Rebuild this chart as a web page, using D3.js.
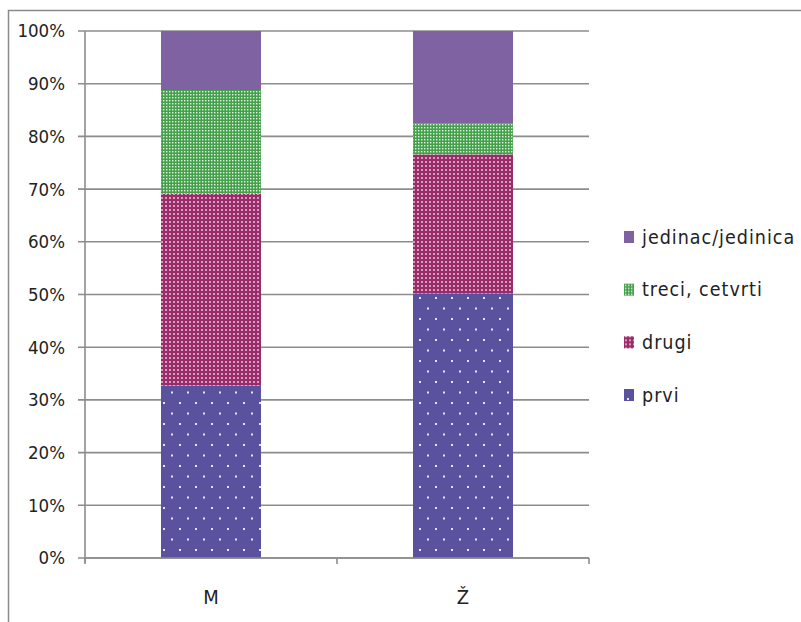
<!DOCTYPE html>
<html><head><meta charset="utf-8">
<script src="https://cdn.jsdelivr.net/npm/d3@7"></script>
<style>
html,body{margin:0;padding:0;background:#fff;}
svg{display:block;}
text{font-family:"DejaVu Sans Condensed","Liberation Sans Narrow","Liberation Sans",Arial,sans-serif;fill:#222;}
</style></head>
<body>
<svg id="chart" width="801" height="622"></svg>
<script>
const categories = ["M", "Ž"];
const seriesNames = ["prvi", "drugi", "treci, cetvrti", "jedinac/jedinica"];
const prvi = [32.7, 50.2];
const drugi = [36.4, 26.4];
const treci = [19.7, 5.8];
const jedinac = [11.2, 17.6];
const yTicks = [0, 10, 20, 30, 40, 50, 60, 70, 80, 90, 100];

const seriesValues = [prvi, drugi, treci, jedinac];
const rows = categories.map((c, i) => {
  const r = {cat: c};
  seriesNames.forEach((s, k) => r[s] = seriesValues[k][i]);
  return r;
});

const svg = d3.select("#chart");
const defs = svg.append("defs");

// Patterns
const p1 = defs.append("pattern").attr("id","pPrvi").attr("patternUnits","userSpaceOnUse")
  .attr("width",16).attr("height",21);
p1.append("rect").attr("width",16).attr("height",21).attr("fill","#5a529f");
p1.append("rect").attr("x",3).attr("y",3).attr("width",2).attr("height",2).attr("fill","#e8e6f4");
p1.append("rect").attr("x",11).attr("y",13.5).attr("width",2).attr("height",2).attr("fill","#e8e6f4");

const p2 = defs.append("pattern").attr("id","pDrugi").attr("patternUnits","userSpaceOnUse")
  .attr("width",4).attr("height",4);
p2.append("rect").attr("width",4).attr("height",4).attr("fill","#9a2c69");
p2.append("rect").attr("x",1.2).attr("y",1.2).attr("width",1.6).attr("height",1.6).attr("fill","#f3dbe8");

const p3 = defs.append("pattern").attr("id","pTreci").attr("patternUnits","userSpaceOnUse")
  .attr("width",3).attr("height",3);
p3.append("rect").attr("width",3).attr("height",3).attr("fill","#45a04c");
p3.append("rect").attr("x",1).attr("y",1).attr("width",1.4).attr("height",1.4).attr("fill","#e6f5e6");

const fills = {"prvi":"url(#pPrvi)","drugi":"url(#pDrugi)","treci, cetvrti":"url(#pTreci)","jedinac/jedinica":"#7f62a2"};

// Border
svg.append("path").attr("d","M8.5,622 V10.5 H801").attr("fill","none").attr("stroke","#8a8a8a").attr("stroke-width",1.5);

const x = d3.scaleBand().domain(categories).range([85, 589]).paddingInner(0).paddingOuter(0);
const y = d3.scaleLinear().domain([0, 100]).range([558, 31]);
const barW = 100;

// Gridlines
svg.append("g").selectAll("line").data(yTicks).join("line")
  .attr("x1",78).attr("x2",589)
  .attr("y1",d=>y(d)).attr("y2",d=>y(d))
  .attr("stroke","#8c8c8c").attr("stroke-width",1.6);

// Stacked bars
const stack = d3.stack().keys(seriesNames)(rows);
svg.append("g").selectAll("g").data(stack).join("g")
  .attr("fill", d => fills[d.key])
  .selectAll("rect").data(d => d).join("rect")
  .attr("x", d => x(d.data.cat) + x.bandwidth()/2 - barW/2)
  .attr("width", barW)
  .attr("y", d => y(d[1]))
  .attr("height", d => y(d[0]) - y(d[1]));

// Y axis
const yAxis = d3.axisLeft(y).tickValues(yTicks).tickFormat(d => d + "%").tickSize(0).tickPadding(20);
const gy = svg.append("g").attr("transform","translate(85,0)").call(yAxis);
gy.select(".domain").attr("stroke","#8c8c8c").attr("stroke-width",1.6).attr("d","M0,31V563");
gy.selectAll("text").attr("font-size",18.5).style("font-family",null).attr("fill","#222");

// X axis
const xAxis = d3.axisBottom(x).tickSize(0).tickPadding(32);
const gx = svg.append("g").attr("transform","translate(0,558)").call(xAxis);
gx.select(".domain").attr("stroke","#8c8c8c").attr("stroke-width",1.6).attr("d","M85,0H589");
gx.selectAll("text").attr("font-size",20).style("font-family",null).attr("fill","#222");
const bounds = [x.range()[0]].concat(categories.map(c => x(c) + x.bandwidth()));
gx.append("g").selectAll("line").data(bounds).join("line")
  .attr("x1",d=>d).attr("x2",d=>d).attr("y1",0).attr("y2",6)
  .attr("stroke","#8c8c8c").attr("stroke-width",1.6);

// Legend
const legendOrder = seriesNames.slice().reverse();
const ly = d3.scalePoint().domain(legendOrder).range([237, 395]);
const lg = svg.append("g").selectAll("g").data(legendOrder).join("g")
  .attr("transform", d => `translate(624,${ly(d)})`);
lg.append("rect").attr("x",0).attr("y",-6).attr("width",10).attr("height",12)
  .attr("fill", d => fills[d]);
lg.append("text").attr("x",18).attr("dy","0.35em").attr("font-size",19.5)
  .attr("letter-spacing",1).text(d => d);
</script>
</body></html>
